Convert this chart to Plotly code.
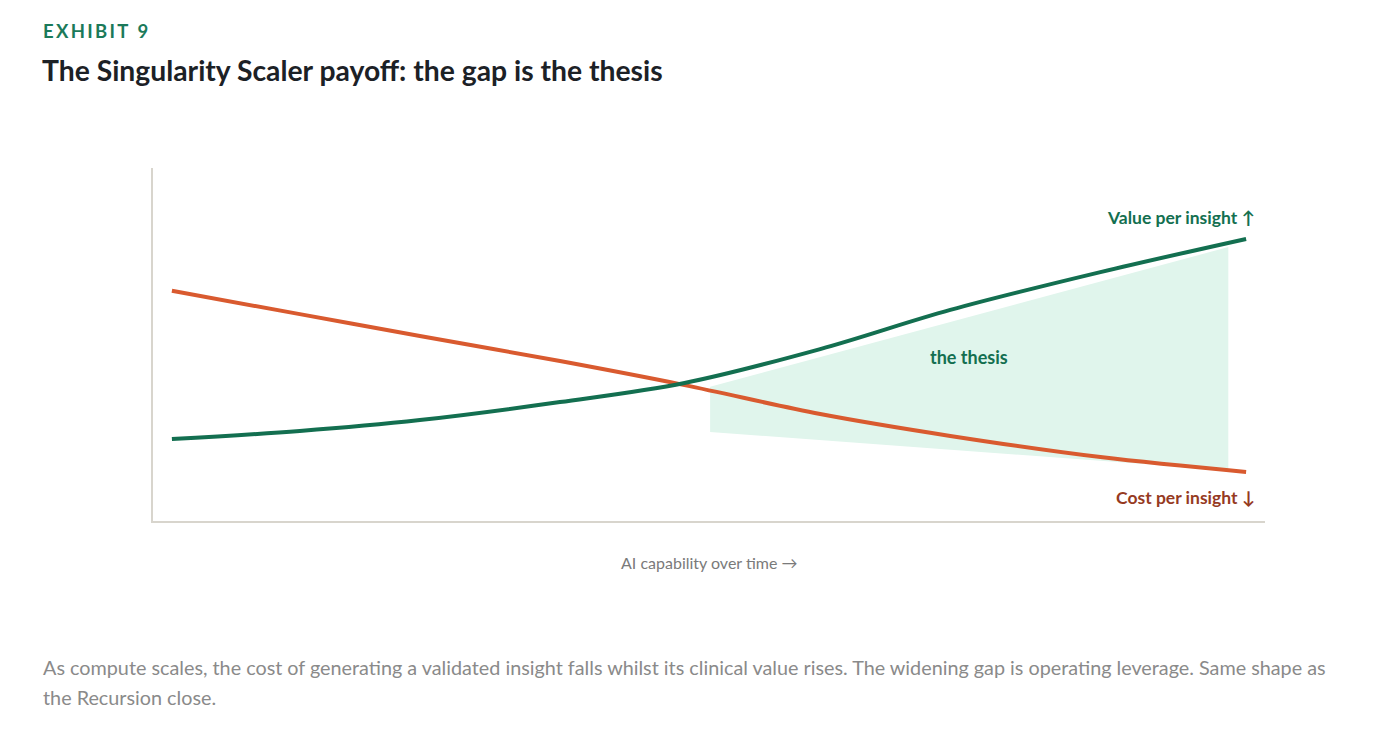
import plotly.graph_objects as go

# AI capability (x) vs relative level (y)
capability = [1.7, 13.2, 24.0, 36.6, 47.8, 60.0, 71.7, 85.2, 98.3]
value_per_insight = [23.2, 25.5, 28.6, 33.7, 39.1, 48.7, 59.8, 70.5, 79.9]
cost_per_insight = [65.2, 58.6, 52.4, 45.3, 38.5, 30.3, 24.1, 18.1, 13.9]

# the shaded "thesis" gap
gap_x = [50.1, 96.7, 96.7, 50.1, 50.1]
gap_y = [38.0, 77.6, 14.4, 25.2, 38.0]

GREEN = '#136f50'
ORANGE = '#d95a2f'
RUST = '#963a1f'
MINT = '#e0f5ec'
AXIS = '#d8d5cd'
FONT = 'Lato'

W, H = 1376, 748
OFF = 8  # page offset of the figure in the browser
L, R, T, B = 153 - OFF, 1265 - OFF, 168 - OFF, 521 - OFF


def px(x):
    return (x - OFF - L) / (R - L)


def py(y):
    return (B - (y - OFF)) / (B - T)


fig = go.Figure()

fig.add_trace(go.Scatter(
    x=gap_x, y=gap_y, fill='toself', fillcolor=MINT,
    line=dict(width=0), mode='lines', hoverinfo='skip', showlegend=False,
))
fig.add_trace(go.Scatter(
    x=capability, y=cost_per_insight, mode='lines', line_shape='spline',
    line=dict(color=ORANGE, width=4), name='Cost per insight', showlegend=False,
))
fig.add_trace(go.Scatter(
    x=capability, y=value_per_insight, mode='lines', line_shape='spline',
    line=dict(color=GREEN, width=4), name='Value per insight', showlegend=False,
))

annotations = [
    dict(text='E\u2009X\u2009H\u2009I\u2009B\u2009I\u2009T\u2009 \u20099', x=px(41), y=py(31),
         xanchor='left', yanchor='middle', showarrow=False,
         font=dict(family=FONT, size=18.5, color='#1b7a5a', weight='bold')),
    dict(text='The Singularity Scaler payoff: the gap is the thesis', x=px(40), y=py(70),
         xanchor='left', yanchor='middle', showarrow=False,
         font=dict(family=FONT, size=28.3, color='#1c2126', weight='bold')),
    dict(text='Value per insight \u2191', x=px(1257), y=py(218),
         xanchor='right', yanchor='middle', showarrow=False,
         font=dict(family=FONT, size=17.5, color=GREEN, weight='bold')),
    dict(text='Cost per insight \u2193', x=px(1257), y=py(497),
         xanchor='right', yanchor='middle', showarrow=False,
         font=dict(family=FONT, size=17.5, color=RUST, weight='bold')),
    dict(text='the thesis', x=px(969), y=py(357),
         xanchor='center', yanchor='middle', showarrow=False,
         font=dict(family=FONT, size=18, color=GREEN, weight='bold')),
    dict(text='AI capability over time \u2192', x=px(709), y=py(562),
         xanchor='center', yanchor='middle', showarrow=False,
         font=dict(family=FONT, size=16, color='#7a7a7a')),
    dict(text='As compute scales, the cost of generating a validated insight falls whilst its clinical value rises. '
              'The widening gap is operating leverage. Same shape as',
         x=px(41), y=py(667), xanchor='left', yanchor='middle', align='left', showarrow=False,
         font=dict(family=FONT, size=19.8, color='#8a8a8a')),
    dict(text='the Recursion close.',
         x=px(41), y=py(697), xanchor='left', yanchor='middle', align='left', showarrow=False,
         font=dict(family=FONT, size=19.8, color='#8a8a8a')),
]

fig.update_layout(
    width=W, height=H,
    margin=dict(l=L, r=W - R, t=T, b=H - B),
    paper_bgcolor='white', plot_bgcolor='white',
    xaxis=dict(range=[0, 100], showgrid=False, zeroline=False, showticklabels=False,
               ticks='', showline=True, linecolor=AXIS, linewidth=2, fixedrange=True),
    yaxis=dict(range=[0, 100], showgrid=False, zeroline=False, showticklabels=False,
               ticks='', showline=True, linecolor=AXIS, linewidth=2, fixedrange=True),
    annotations=[dict(a, xref='paper', yref='paper') for a in annotations],
    showlegend=False,
)

fig.write_html('out.html')
